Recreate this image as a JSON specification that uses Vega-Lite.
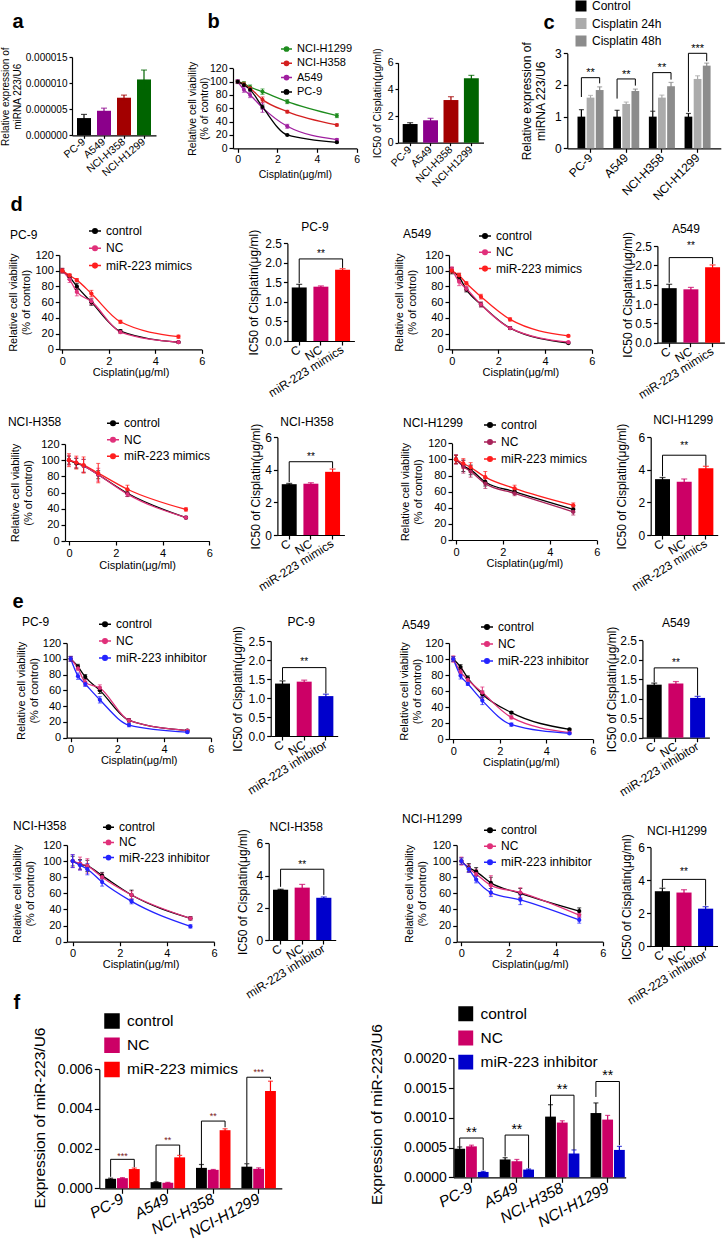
{
"$schema": "https://vega.github.io/schema/vega-lite/v6.json",
"width": 726, "height": 1241,
"autosize": {"type": "none"},
"padding": 0,
"background": "white",
"config": {
 "view": {"stroke": null},
 "font": "Liberation Sans",
 "axis": {"grid": false, "domainColor": "#000000", "domainWidth": 1.2, "tickColor": "#000000", "tickWidth": 1.2, "tickSize": 4, "labelColor": "#000000", "titleColor": "#000000", "labelFont": "Liberation Sans", "titleFont": "Liberation Sans", "titleFontWeight": "normal", "labelPadding": 2, "labelFlush": false, "labelOverlap": false, "labelBound": false},
 "axisLeft": {"titleAngle": 270, "titleAlign": "center", "titleBaseline": "bottom"},
 "legend": {"padding": 0, "labelFont": "Liberation Sans", "labelColor": "#000000", "symbolStrokeWidth": 1.5},
 "text": {"font": "Liberation Sans", "color": "#000000"}
},
"datasets": {
 "lines": [
  {"p":"b","s":"NCI-H1299","c":0,"v":100,"e":2},{"p":"b","s":"NCI-H1299","c":0.3125,"v":97,"e":3},{"p":"b","s":"NCI-H1299","c":0.625,"v":92,"e":3},{"p":"b","s":"NCI-H1299","c":1.25,"v":85,"e":4},{"p":"b","s":"NCI-H1299","c":2.5,"v":70,"e":3},{"p":"b","s":"NCI-H1299","c":5,"v":49,"e":3},
  {"p":"b","s":"NCI-H358","c":0,"v":100,"e":2},{"p":"b","s":"NCI-H358","c":0.3125,"v":96,"e":3},{"p":"b","s":"NCI-H358","c":0.625,"v":90,"e":2},{"p":"b","s":"NCI-H358","c":1.25,"v":73,"e":4},{"p":"b","s":"NCI-H358","c":2.5,"v":55,"e":2},{"p":"b","s":"NCI-H358","c":5,"v":35,"e":1.5},
  {"p":"b","s":"A549","c":0,"v":100,"e":3},{"p":"b","s":"A549","c":0.3125,"v":88,"e":4},{"p":"b","s":"A549","c":0.625,"v":80,"e":4},{"p":"b","s":"A549","c":1.25,"v":61,"e":7},{"p":"b","s":"A549","c":2.5,"v":33,"e":3},{"p":"b","s":"A549","c":5,"v":13,"e":1.5},
  {"p":"b","s":"PC-9","c":0,"v":100,"e":2},{"p":"b","s":"PC-9","c":0.3125,"v":95,"e":2},{"p":"b","s":"PC-9","c":0.625,"v":88,"e":2},{"p":"b","s":"PC-9","c":1.25,"v":62,"e":3},{"p":"b","s":"PC-9","c":2.5,"v":20,"e":1},{"p":"b","s":"PC-9","c":5,"v":9,"e":1},

  {"p":"dP","s":"control","c":0,"v":100,"e":3},{"p":"dP","s":"control","c":0.3125,"v":92,"e":3},{"p":"dP","s":"control","c":0.625,"v":80,"e":4},{"p":"dP","s":"control","c":1.25,"v":60,"e":4},{"p":"dP","s":"control","c":2.5,"v":23,"e":2},{"p":"dP","s":"control","c":5,"v":9,"e":1},
  {"p":"dP","s":"NC","c":0,"v":100,"e":3},{"p":"dP","s":"NC","c":0.3125,"v":89,"e":4},{"p":"dP","s":"NC","c":0.625,"v":73,"e":5},{"p":"dP","s":"NC","c":1.25,"v":61,"e":4},{"p":"dP","s":"NC","c":2.5,"v":22,"e":2},{"p":"dP","s":"NC","c":5,"v":9,"e":1},
  {"p":"dP","s":"miR-223 mimics","c":0,"v":100,"e":2},{"p":"dP","s":"miR-223 mimics","c":0.3125,"v":94,"e":2},{"p":"dP","s":"miR-223 mimics","c":0.625,"v":88,"e":2},{"p":"dP","s":"miR-223 mimics","c":1.25,"v":71,"e":4},{"p":"dP","s":"miR-223 mimics","c":2.5,"v":35,"e":2},{"p":"dP","s":"miR-223 mimics","c":5,"v":16,"e":2},

  {"p":"dA","s":"control","c":0,"v":100,"e":4},{"p":"dA","s":"control","c":0.3125,"v":92,"e":4},{"p":"dA","s":"control","c":0.625,"v":76,"e":3},{"p":"dA","s":"control","c":1.25,"v":57,"e":3},{"p":"dA","s":"control","c":2.5,"v":27,"e":1.5},{"p":"dA","s":"control","c":5,"v":8,"e":1},
  {"p":"dA","s":"NC","c":0,"v":102,"e":3},{"p":"dA","s":"NC","c":0.3125,"v":86,"e":5},{"p":"dA","s":"NC","c":0.625,"v":77,"e":3},{"p":"dA","s":"NC","c":1.25,"v":57,"e":3},{"p":"dA","s":"NC","c":2.5,"v":27,"e":1.5},{"p":"dA","s":"NC","c":5,"v":9,"e":1},
  {"p":"dA","s":"miR-223 mimics","c":0,"v":100,"e":3},{"p":"dA","s":"miR-223 mimics","c":0.3125,"v":94,"e":3},{"p":"dA","s":"miR-223 mimics","c":0.625,"v":84,"e":2},{"p":"dA","s":"miR-223 mimics","c":1.25,"v":67,"e":3},{"p":"dA","s":"miR-223 mimics","c":2.5,"v":38,"e":2},{"p":"dA","s":"miR-223 mimics","c":5,"v":17,"e":1},

  {"p":"dH","s":"control","c":0,"v":100,"e":5},{"p":"dH","s":"control","c":0.3125,"v":96,"e":6},{"p":"dH","s":"control","c":0.625,"v":93,"e":8},{"p":"dH","s":"control","c":1.25,"v":82,"e":5},{"p":"dH","s":"control","c":2.5,"v":59,"e":4},{"p":"dH","s":"control","c":5,"v":29,"e":1.5},
  {"p":"dH","s":"NC","c":0,"v":100,"e":6},{"p":"dH","s":"NC","c":0.3125,"v":97,"e":6},{"p":"dH","s":"NC","c":0.625,"v":93,"e":8},{"p":"dH","s":"NC","c":1.25,"v":82,"e":8},{"p":"dH","s":"NC","c":2.5,"v":58,"e":3},{"p":"dH","s":"NC","c":5,"v":29,"e":1.5},
  {"p":"dH","s":"miR-223 mimics","c":0,"v":100,"e":8},{"p":"dH","s":"miR-223 mimics","c":0.3125,"v":97,"e":8},{"p":"dH","s":"miR-223 mimics","c":0.625,"v":94,"e":10},{"p":"dH","s":"miR-223 mimics","c":1.25,"v":84,"e":12},{"p":"dH","s":"miR-223 mimics","c":2.5,"v":64,"e":5},{"p":"dH","s":"miR-223 mimics","c":5,"v":39,"e":2},

  {"p":"d9","s":"control","c":0,"v":100,"e":5},{"p":"d9","s":"control","c":0.3125,"v":92,"e":7},{"p":"d9","s":"control","c":0.625,"v":87,"e":6},{"p":"d9","s":"control","c":1.25,"v":72,"e":5},{"p":"d9","s":"control","c":2.5,"v":60,"e":3},{"p":"d9","s":"control","c":5,"v":38,"e":4},
  {"p":"d9","s":"NC","c":0,"v":100,"e":6},{"p":"d9","s":"NC","c":0.3125,"v":91,"e":8},{"p":"d9","s":"NC","c":0.625,"v":85,"e":7},{"p":"d9","s":"NC","c":1.25,"v":70,"e":6},{"p":"d9","s":"NC","c":2.5,"v":58,"e":3},{"p":"d9","s":"NC","c":5,"v":35,"e":4},
  {"p":"d9","s":"miR-223 mimics","c":0,"v":100,"e":5},{"p":"d9","s":"miR-223 mimics","c":0.3125,"v":95,"e":6},{"p":"d9","s":"miR-223 mimics","c":0.625,"v":90,"e":6},{"p":"d9","s":"miR-223 mimics","c":1.25,"v":78,"e":7},{"p":"d9","s":"miR-223 mimics","c":2.5,"v":64,"e":4},{"p":"d9","s":"miR-223 mimics","c":5,"v":43,"e":3},

  {"p":"eP","s":"control","c":0,"v":100,"e":3},{"p":"eP","s":"control","c":0.3125,"v":90,"e":3},{"p":"eP","s":"control","c":0.625,"v":77,"e":3},{"p":"eP","s":"control","c":1.25,"v":60,"e":4},{"p":"eP","s":"control","c":2.5,"v":22,"e":2},{"p":"eP","s":"control","c":5,"v":9,"e":1},
  {"p":"eP","s":"NC","c":0,"v":100,"e":3},{"p":"eP","s":"NC","c":0.3125,"v":88,"e":3},{"p":"eP","s":"NC","c":0.625,"v":70,"e":4},{"p":"eP","s":"NC","c":1.25,"v":63,"e":4},{"p":"eP","s":"NC","c":2.5,"v":22,"e":2},{"p":"eP","s":"NC","c":5,"v":9,"e":1},
  {"p":"eP","s":"miR-223 inhibitor","c":0,"v":100,"e":3},{"p":"eP","s":"miR-223 inhibitor","c":0.3125,"v":78,"e":4},{"p":"eP","s":"miR-223 inhibitor","c":0.625,"v":68,"e":3},{"p":"eP","s":"miR-223 inhibitor","c":1.25,"v":48,"e":4},{"p":"eP","s":"miR-223 inhibitor","c":2.5,"v":16,"e":2},{"p":"eP","s":"miR-223 inhibitor","c":5,"v":7,"e":1},

  {"p":"eA","s":"control","c":0,"v":100,"e":3},{"p":"eA","s":"control","c":0.3125,"v":90,"e":3},{"p":"eA","s":"control","c":0.625,"v":76,"e":3},{"p":"eA","s":"control","c":1.25,"v":56,"e":4},{"p":"eA","s":"control","c":2.5,"v":33,"e":1.5},{"p":"eA","s":"control","c":5,"v":12,"e":1},
  {"p":"eA","s":"NC","c":0,"v":100,"e":4},{"p":"eA","s":"NC","c":0.3125,"v":84,"e":4},{"p":"eA","s":"NC","c":0.625,"v":74,"e":3},{"p":"eA","s":"NC","c":1.25,"v":58,"e":7},{"p":"eA","s":"NC","c":2.5,"v":27,"e":2},{"p":"eA","s":"NC","c":5,"v":8,"e":1},
  {"p":"eA","s":"miR-223 inhibitor","c":0,"v":100,"e":3},{"p":"eA","s":"miR-223 inhibitor","c":0.3125,"v":79,"e":4},{"p":"eA","s":"miR-223 inhibitor","c":0.625,"v":69,"e":2},{"p":"eA","s":"miR-223 inhibitor","c":1.25,"v":48,"e":5},{"p":"eA","s":"miR-223 inhibitor","c":2.5,"v":18,"e":2},{"p":"eA","s":"miR-223 inhibitor","c":5,"v":7,"e":1},

  {"p":"gH","s":"control","c":0,"v":100,"e":6},{"p":"gH","s":"control","c":0.3125,"v":96,"e":6},{"p":"gH","s":"control","c":0.625,"v":94,"e":7},{"p":"gH","s":"control","c":1.25,"v":82,"e":4},{"p":"gH","s":"control","c":2.5,"v":58,"e":6},{"p":"gH","s":"control","c":5,"v":29,"e":2},
  {"p":"gH","s":"NC","c":0,"v":100,"e":8},{"p":"gH","s":"NC","c":0.3125,"v":97,"e":8},{"p":"gH","s":"NC","c":0.625,"v":94,"e":9},{"p":"gH","s":"NC","c":1.25,"v":80,"e":5},{"p":"gH","s":"NC","c":2.5,"v":58,"e":5},{"p":"gH","s":"NC","c":5,"v":29,"e":2},
  {"p":"gH","s":"miR-223 inhibitor","c":0,"v":100,"e":8},{"p":"gH","s":"miR-223 inhibitor","c":0.3125,"v":95,"e":6},{"p":"gH","s":"miR-223 inhibitor","c":0.625,"v":90,"e":7},{"p":"gH","s":"miR-223 inhibitor","c":1.25,"v":74,"e":5},{"p":"gH","s":"miR-223 inhibitor","c":2.5,"v":50,"e":3},{"p":"gH","s":"miR-223 inhibitor","c":5,"v":19,"e":2},

  {"p":"g9","s":"control","c":0,"v":100,"e":4},{"p":"g9","s":"control","c":0.3125,"v":92,"e":5},{"p":"g9","s":"control","c":0.625,"v":87,"e":5},{"p":"g9","s":"control","c":1.25,"v":73,"e":7},{"p":"g9","s":"control","c":2.5,"v":60,"e":6},{"p":"g9","s":"control","c":5,"v":38,"e":4},
  {"p":"g9","s":"NC","c":0,"v":100,"e":5},{"p":"g9","s":"NC","c":0.3125,"v":91,"e":5},{"p":"g9","s":"NC","c":0.625,"v":84,"e":6},{"p":"g9","s":"NC","c":1.25,"v":70,"e":12},{"p":"g9","s":"NC","c":2.5,"v":61,"e":6},{"p":"g9","s":"NC","c":5,"v":33,"e":3},
  {"p":"g9","s":"miR-223 inhibitor","c":0,"v":100,"e":4},{"p":"g9","s":"miR-223 inhibitor","c":0.3125,"v":90,"e":4},{"p":"g9","s":"miR-223 inhibitor","c":0.625,"v":77,"e":4},{"p":"g9","s":"miR-223 inhibitor","c":1.25,"v":61,"e":5},{"p":"g9","s":"miR-223 inhibitor","c":2.5,"v":52,"e":6},{"p":"g9","s":"miR-223 inhibitor","c":5,"v":27,"e":4}
 ],
 "bars": [
  {"p":"a","cat":"PC-9","v":0.0000033,"e":0.0000007},{"p":"a","cat":"A549","v":0.0000047,"e":0.0000005},{"p":"a","cat":"NCI-H358","v":0.0000072,"e":0.0000005},{"p":"a","cat":"NCI-H1299","v":0.0000107,"e":0.0000018},
  {"p":"bb","cat":"PC-9","v":1.4,"e":0.1},{"p":"bb","cat":"A549","v":1.68,"e":0.15},{"p":"bb","cat":"NCI-H358","v":3.2,"e":0.25},{"p":"bb","cat":"NCI-H1299","v":4.83,"e":0.22},
  {"p":"dPb","cat":"C","v":1.37,"e":0.08},{"p":"dPb","cat":"NC","v":1.39,"e":0.02},{"p":"dPb","cat":"miR-223 mimics","v":1.82,"e":0.03},
  {"p":"dAb","cat":"C","v":1.41,"e":0.1},{"p":"dAb","cat":"NC","v":1.38,"e":0.05},{"p":"dAb","cat":"miR-223 mimics","v":1.95,"e":0.06},
  {"p":"dHb","cat":"C","v":3.12,"e":0.05},{"p":"dHb","cat":"NC","v":3.15,"e":0.06},{"p":"dHb","cat":"miR-223 mimics","v":3.88,"e":0.17},
  {"p":"d9b","cat":"C","v":3.43,"e":0.1},{"p":"d9b","cat":"NC","v":3.27,"e":0.17},{"p":"d9b","cat":"miR-223 mimics","v":4.1,"e":0.12},
  {"p":"ePb","cat":"C","v":1.38,"e":0.07},{"p":"ePb","cat":"NC","v":1.43,"e":0.04},{"p":"ePb","cat":"miR-223 inhibitor","v":1.05,"e":0.05},
  {"p":"eAb","cat":"C","v":1.36,"e":0.04},{"p":"eAb","cat":"NC","v":1.39,"e":0.05},{"p":"eAb","cat":"miR-223 inhibitor","v":1.02,"e":0.04},
  {"p":"gHb","cat":"C","v":3.12,"e":0.03},{"p":"gHb","cat":"NC","v":3.25,"e":0.2},{"p":"gHb","cat":"miR-223 inhibitor","v":2.62,"e":0.05},
  {"p":"g9b","cat":"C","v":3.33,"e":0.18},{"p":"g9b","cat":"NC","v":3.25,"e":0.17},{"p":"g9b","cat":"miR-223 inhibitor","v":2.27,"e":0.12}
 ],
 "grouped": [
  {"p":"c","cat":"PC-9","grp":"Control","v":1.0,"e":0.22},{"p":"c","cat":"PC-9","grp":"Cisplatin 24h","v":1.6,"e":0.07},{"p":"c","cat":"PC-9","grp":"Cisplatin 48h","v":1.84,"e":0.1},
  {"p":"c","cat":"A549","grp":"Control","v":1.0,"e":0.2},{"p":"c","cat":"A549","grp":"Cisplatin 24h","v":1.4,"e":0.06},{"p":"c","cat":"A549","grp":"Cisplatin 48h","v":1.81,"e":0.06},
  {"p":"c","cat":"NCI-H358","grp":"Control","v":1.0,"e":0.17},{"p":"c","cat":"NCI-H358","grp":"Cisplatin 24h","v":1.6,"e":0.08},{"p":"c","cat":"NCI-H358","grp":"Cisplatin 48h","v":1.96,"e":0.12},
  {"p":"c","cat":"NCI-H1299","grp":"Control","v":1.0,"e":0.1},{"p":"c","cat":"NCI-H1299","grp":"Cisplatin 24h","v":2.19,"e":0.1},{"p":"c","cat":"NCI-H1299","grp":"Cisplatin 48h","v":2.61,"e":0.08},
  {"p":"fL","cat":"PC-9","grp":"control","v":0.00048,"e":0.00003},{"p":"fL","cat":"PC-9","grp":"NC","v":0.00051,"e":0.00003},{"p":"fL","cat":"PC-9","grp":"miR-223 mimics","v":0.00097,"e":0.00005},
  {"p":"fL","cat":"A549","grp":"control","v":0.00031,"e":0.00003},{"p":"fL","cat":"A549","grp":"NC","v":0.00028,"e":0.00002},{"p":"fL","cat":"A549","grp":"miR-223 mimics","v":0.00156,"e":0.0001},
  {"p":"fL","cat":"NCI-H358","grp":"control","v":0.00103,"e":0.00017},{"p":"fL","cat":"NCI-H358","grp":"NC","v":0.00093,"e":0.00002},{"p":"fL","cat":"NCI-H358","grp":"miR-223 mimics","v":0.00293,"e":0.00007},
  {"p":"fL","cat":"NCI-H1299","grp":"control","v":0.00109,"e":0.00015},{"p":"fL","cat":"NCI-H1299","grp":"NC","v":0.00098,"e":0.00005},{"p":"fL","cat":"NCI-H1299","grp":"miR-223 mimics","v":0.0049,"e":0.0005},
  {"p":"fR","cat":"PC-9","grp":"control","v":0.00048,"e":0.00003},{"p":"fR","cat":"PC-9","grp":"NC","v":0.00052,"e":0.00002},{"p":"fR","cat":"PC-9","grp":"miR-223 inhibitor","v":0.00009,"e":0.00001},
  {"p":"fR","cat":"A549","grp":"control","v":0.0003,"e":0.00003},{"p":"fR","cat":"A549","grp":"NC","v":0.00027,"e":0.00003},{"p":"fR","cat":"A549","grp":"miR-223 inhibitor","v":0.00013,"e":0.00001},
  {"p":"fR","cat":"NCI-H358","grp":"control","v":0.00102,"e":0.0002},{"p":"fR","cat":"NCI-H358","grp":"NC","v":0.00092,"e":0.00003},{"p":"fR","cat":"NCI-H358","grp":"miR-223 inhibitor","v":0.0004,"e":0.00006},
  {"p":"fR","cat":"NCI-H1299","grp":"control","v":0.00108,"e":0.00017},{"p":"fR","cat":"NCI-H1299","grp":"NC","v":0.00097,"e":0.00007},{"p":"fR","cat":"NCI-H1299","grp":"miR-223 inhibitor","v":0.00046,"e":0.00006}
 ],
 "brackets": [
  {"p":"c","cat":"PC-9","grp":"Control","v":1.62,"o":1},{"p":"c","cat":"PC-9","grp":"Control","v":2.23,"o":2},{"p":"c","cat":"PC-9","grp":"Cisplatin 48h","v":2.23,"o":3},{"p":"c","cat":"PC-9","grp":"Cisplatin 48h","v":2.05,"o":4},
  {"p":"c","cat":"A549","grp":"Control","v":1.57,"o":1},{"p":"c","cat":"A549","grp":"Control","v":2.19,"o":2},{"p":"c","cat":"A549","grp":"Cisplatin 48h","v":2.19,"o":3},{"p":"c","cat":"A549","grp":"Cisplatin 48h","v":1.98,"o":4},
  {"p":"c","cat":"NCI-H358","grp":"Control","v":1.18,"o":1},{"p":"c","cat":"NCI-H358","grp":"Control","v":2.39,"o":2},{"p":"c","cat":"NCI-H358","grp":"Cisplatin 48h","v":2.39,"o":3},{"p":"c","cat":"NCI-H358","grp":"Cisplatin 48h","v":2.17,"o":4},
  {"p":"c","cat":"NCI-H1299","grp":"Control","v":1.15,"o":1},{"p":"c","cat":"NCI-H1299","grp":"Control","v":3.0,"o":2},{"p":"c","cat":"NCI-H1299","grp":"Cisplatin 48h","v":3.0,"o":3},{"p":"c","cat":"NCI-H1299","grp":"Cisplatin 48h","v":2.75,"o":4},
  {"p":"dPb","cat":"C","v":1.48,"o":1},{"p":"dPb","cat":"C","v":2.1,"o":2},{"p":"dPb","cat":"miR-223 mimics","v":2.1,"o":3},{"p":"dPb","cat":"miR-223 mimics","v":1.87,"o":4},
  {"p":"dAb","cat":"C","v":1.55,"o":1},{"p":"dAb","cat":"C","v":2.2,"o":2},{"p":"dAb","cat":"miR-223 mimics","v":2.2,"o":3},{"p":"dAb","cat":"miR-223 mimics","v":2.03,"o":4},
  {"p":"dHb","cat":"C","v":3.25,"o":1},{"p":"dHb","cat":"C","v":4.5,"o":2},{"p":"dHb","cat":"miR-223 mimics","v":4.5,"o":3},{"p":"dHb","cat":"miR-223 mimics","v":4.1,"o":4},
  {"p":"d9b","cat":"C","v":3.6,"o":1},{"p":"d9b","cat":"C","v":4.9,"o":2},{"p":"d9b","cat":"miR-223 mimics","v":4.9,"o":3},{"p":"d9b","cat":"miR-223 mimics","v":4.25,"o":4},
  {"p":"ePb","cat":"C","v":1.47,"o":1},{"p":"ePb","cat":"C","v":1.8,"o":2},{"p":"ePb","cat":"miR-223 inhibitor","v":1.8,"o":3},{"p":"ePb","cat":"miR-223 inhibitor","v":1.12,"o":4},
  {"p":"eAb","cat":"C","v":1.42,"o":1},{"p":"eAb","cat":"C","v":1.79,"o":2},{"p":"eAb","cat":"miR-223 inhibitor","v":1.79,"o":3},{"p":"eAb","cat":"miR-223 inhibitor","v":1.08,"o":4},
  {"p":"gHb","cat":"C","v":3.3,"o":1},{"p":"gHb","cat":"C","v":4.39,"o":2},{"p":"gHb","cat":"miR-223 inhibitor","v":4.39,"o":3},{"p":"gHb","cat":"miR-223 inhibitor","v":2.8,"o":4},
  {"p":"g9b","cat":"C","v":3.55,"o":1},{"p":"g9b","cat":"C","v":4.05,"o":2},{"p":"g9b","cat":"miR-223 inhibitor","v":4.05,"o":3},{"p":"g9b","cat":"miR-223 inhibitor","v":2.45,"o":4},
  {"p":"fL","cat":"PC-9","grp":"control","v":0.00058,"o":1},{"p":"fL","cat":"PC-9","grp":"control","v":0.00146,"o":2},{"p":"fL","cat":"PC-9","grp":"miR-223 mimics","v":0.00146,"o":3},{"p":"fL","cat":"PC-9","grp":"miR-223 mimics","v":0.00106,"o":4},
  {"p":"fL","cat":"A549","grp":"control","v":0.00037,"o":1},{"p":"fL","cat":"A549","grp":"control","v":0.00218,"o":2},{"p":"fL","cat":"A549","grp":"miR-223 mimics","v":0.00218,"o":3},{"p":"fL","cat":"A549","grp":"miR-223 mimics","v":0.00168,"o":4},
  {"p":"fL","cat":"NCI-H358","grp":"control","v":0.00118,"o":1},{"p":"fL","cat":"NCI-H358","grp":"control","v":0.00339,"o":2},{"p":"fL","cat":"NCI-H358","grp":"miR-223 mimics","v":0.00339,"o":3},{"p":"fL","cat":"NCI-H358","grp":"miR-223 mimics","v":0.00308,"o":4},
  {"p":"fL","cat":"NCI-H1299","grp":"control","v":0.00126,"o":1},{"p":"fL","cat":"NCI-H1299","grp":"control","v":0.0056,"o":2},{"p":"fL","cat":"NCI-H1299","grp":"miR-223 mimics","v":0.0056,"o":3},{"p":"fL","cat":"NCI-H1299","grp":"miR-223 mimics","v":0.0055,"o":4},
  {"p":"fR","cat":"PC-9","grp":"control","v":0.00051,"o":1},{"p":"fR","cat":"PC-9","grp":"control","v":0.00066,"o":2},{"p":"fR","cat":"PC-9","grp":"miR-223 inhibitor","v":0.00066,"o":3},{"p":"fR","cat":"PC-9","grp":"miR-223 inhibitor","v":0.00012,"o":4},
  {"p":"fR","cat":"A549","grp":"control","v":0.00035,"o":1},{"p":"fR","cat":"A549","grp":"control","v":0.00071,"o":2},{"p":"fR","cat":"A549","grp":"miR-223 inhibitor","v":0.00071,"o":3},{"p":"fR","cat":"A549","grp":"miR-223 inhibitor","v":0.00015,"o":4},
  {"p":"fR","cat":"NCI-H358","grp":"control","v":0.00119,"o":1},{"p":"fR","cat":"NCI-H358","grp":"control","v":0.00138,"o":2},{"p":"fR","cat":"NCI-H358","grp":"miR-223 inhibitor","v":0.00138,"o":3},{"p":"fR","cat":"NCI-H358","grp":"miR-223 inhibitor","v":0.00046,"o":4},
  {"p":"fR","cat":"NCI-H1299","grp":"control","v":0.00135,"o":1},{"p":"fR","cat":"NCI-H1299","grp":"control","v":0.00161,"o":2},{"p":"fR","cat":"NCI-H1299","grp":"miR-223 inhibitor","v":0.00161,"o":3},{"p":"fR","cat":"NCI-H1299","grp":"miR-223 inhibitor","v":0.00054,"o":4}
 ],
 "stars": [
  {"p":"c","cat":"PC-9","grp":"Cisplatin 24h","v":2.27,"t":"**"},{"p":"c","cat":"A549","grp":"Cisplatin 24h","v":2.23,"t":"**"},{"p":"c","cat":"NCI-H358","grp":"Cisplatin 24h","v":2.43,"t":"**"},{"p":"c","cat":"NCI-H1299","grp":"Cisplatin 24h","v":3.04,"t":"***"},
  {"p":"dPb","cat":"NC","v":2.14,"t":"**"},{"p":"dAb","cat":"NC","v":2.42,"t":"**"},{"p":"dHb","cat":"NC","v":4.6,"t":"**"},{"p":"d9b","cat":"NC","v":5.28,"t":"**"},
  {"p":"ePb","cat":"NC","v":1.86,"t":"**"},{"p":"eAb","cat":"NC","v":1.84,"t":"**"},{"p":"gHb","cat":"NC","v":4.48,"t":"**"},{"p":"g9b","cat":"NC","v":4.31,"t":"**"},
  {"p":"fL","cat":"PC-9","grp":"NC","v":0.0015,"t":"***"},{"p":"fL","cat":"A549","grp":"NC","v":0.00226,"t":"**"},{"p":"fL","cat":"NCI-H358","grp":"NC","v":0.00348,"t":"**"},{"p":"fL","cat":"NCI-H1299","grp":"NC","v":0.0057,"t":"***"},
  {"p":"fR","cat":"PC-9","grp":"NC","v":0.00068,"t":"**"},{"p":"fR","cat":"A549","grp":"NC","v":0.00073,"t":"**"},{"p":"fR","cat":"NCI-H358","grp":"NC","v":0.0014,"t":"**"},{"p":"fR","cat":"NCI-H1299","grp":"NC","v":0.00163,"t":"**"}
 ]
},
"layer": [
 {"layer": [
  {"data":{"name":"bars"},"transform":[{"filter":"datum.p==='a'"}],"mark":{"type":"bar"},
   "encoding":{
    "x":{"field":"cat","type":"nominal","sort":null,"scale":{"domain":["PC-9","A549","NCI-H358","NCI-H1299"],"range":[72,156],"paddingInner":0.3,"paddingOuter":0.25},"axis":{"orient":"bottom","offset":-1105.7,"labelAngle":-40,"labelAlign":"right","labelBaseline":"middle","labelFontSize":10.5,"tickSize":3,"title":"a","titleX":12,"titleY":-108.3,"titleAlign":"left","titleBaseline":"alphabetic","titleAngle":0,"titleFontSize":20,"titleFontWeight":"bold"}},
    "y":{"field":"v","type":"quantitative","scale":{"domain":[0,0.000015],"range":[135.3,57],"nice":false},"axis":{"orient":"left","offset":-72,"values":[0,0.000005,0.00001,0.000015],"format":".6f","title":["Relative  expression of","miRNA 223/U6"],"labelFontSize":10,"titleFontSize":10,"titleX":-61.5,"titleY":96.2,"tickSize":3}},
    "color":{"field":"cat","type":"nominal","scale":{"domain":["PC-9","A549","NCI-H358","NCI-H1299"],"range":["#000000","#8b008b","#a30000","#006400"]},"legend":null}}},
  {"data":{"name":"bars"},"transform":[{"filter":"datum.p==='a'"}],"mark":{"type":"errorbar","ticks":true,"size":6,"thickness":1.2},
   "encoding":{"x":{"field":"cat","type":"nominal"},"y":{"field":"v","type":"quantitative","title":["Relative  expression of","miRNA 223/U6"]},"yError":{"field":"e"},"color":{"field":"cat","type":"nominal","legend":null}}}
 ]},
 {"layer": [
  {"data":{"name":"lines"},"transform":[{"filter":"datum.p==='b'"}],"mark":{"type":"line","interpolate":"monotone","strokeWidth":1.3},
   "encoding":{
    "x":{"field":"c","type":"quantitative","scale":{"domain":[-0.237,6],"range":[233,356.7],"nice":false,"zero":false},"axis":{"orient":"bottom","offset":-1092.7,"values":[0,2,4,6],"format":"d","title":"Cisplatin(μg/ml)","labelFontSize":10.5,"titleFontSize":10.5,"titlePadding":5}},
    "y":{"field":"v","type":"quantitative","scale":{"domain":[0,120],"range":[148.3,68.3],"nice":false},"axis":{"orient":"left","offset":-233,"values":[0,20,40,60,80,100,120],"format":"d","title":["Relative cell viability","(% of control)"],"labelFontSize":10.5,"titleFontSize":10.5,"titleX":-35.75,"titleY":108.3}},
    "color":{"field":"s","type":"nominal","scale":{"domain":["NCI-H1299","NCI-H358","A549","PC-9"],"range":["#1e8c1e","#d42020","#a020a0","#000000"]},"legend":{"orient":"none","legendX":280,"legendY":42.5,"title":null,"labelFontSize":11,"symbolType":"M-1,0L1,0M0.38,0A0.38,0.38,0,1,1,-0.38,0A0.38,0.38,0,1,1,0.38,0Z","symbolSize":121,"symbolStrokeWidth":1.5,"rowPadding":2.3,"labelOffset":4}}}},
  {"data":{"name":"lines"},"transform":[{"filter":"datum.p==='b'"}],"mark":{"type":"errorbar","ticks":true,"size":4,"thickness":1},
   "encoding":{"x":{"field":"c","type":"quantitative"},"y":{"field":"v","type":"quantitative","title":["Relative cell viability","(% of control)"]},"yError":{"field":"e"},"color":{"field":"s","type":"nominal","legend":null}}},
  {"data":{"name":"lines"},"transform":[{"filter":"datum.p==='b'"}],"mark":{"type":"point","filled":true,"size":16,"opacity":1},
   "encoding":{"x":{"field":"c","type":"quantitative"},"y":{"field":"v","type":"quantitative"},"color":{"field":"s","type":"nominal","legend":null}}}
 ]},
 {"layer": [
  {"data":{"name":"bars"},"transform":[{"filter":"datum.p==='bb'"}],"mark":{"type":"bar"},
   "encoding":{
    "x":{"field":"cat","type":"nominal","sort":null,"scale":{"domain":["PC-9","A549","NCI-H358","NCI-H1299"],"range":[398,483.5],"paddingInner":0.27,"paddingOuter":0.23},"axis":{"orient":"bottom","offset":-1098.3,"labelAngle":-45,"labelAlign":"right","labelBaseline":"middle","labelFontSize":10.5,"tickSize":3,"title":"b","titleX":207,"titleY":-115.7,"titleAlign":"left","titleBaseline":"alphabetic","titleAngle":0,"titleFontSize":20,"titleFontWeight":"bold"}},
    "y":{"field":"v","type":"quantitative","scale":{"domain":[0,6],"range":[142.7,62.7],"nice":false},"axis":{"orient":"left","offset":-398,"values":[0,2,4,6],"format":"d","title":"IC50 of Cisplatin(μg/ml)","labelFontSize":10.5,"titleFontSize":10.5,"titleX":-15.75,"titleY":102.7,"tickSize":3}},
    "color":{"field":"cat","type":"nominal","scale":{"domain":["PC-9","A549","NCI-H358","NCI-H1299"],"range":["#000000","#8b008b","#a30000","#006400"]},"legend":null}}},
  {"data":{"name":"bars"},"transform":[{"filter":"datum.p==='bb'"}],"mark":{"type":"errorbar","ticks":true,"size":6,"thickness":1.2},
   "encoding":{"x":{"field":"cat","type":"nominal"},"y":{"field":"v","type":"quantitative","title":"IC50 of Cisplatin(μg/ml)"},"yError":{"field":"e"},"color":{"field":"cat","type":"nominal","legend":null}}}
 ]},
 {"layer": [
  {"data":{"name":"grouped"},"transform":[{"filter":"datum.p==='c'"}],"mark":{"type":"bar"},
   "encoding":{
    "x":{"field":"cat","type":"nominal","sort":null,"scale":{"domain":["PC-9","A549","NCI-H358","NCI-H1299"],"range":[567.3,720.8],"paddingInner":0.27,"paddingOuter":0.286},"axis":{"orient":"bottom","offset":-1092.7,"labelAngle":-45,"labelAlign":"right","labelBaseline":"middle","labelFontSize":12,"labelPadding":3,"title":"c","titleX":543,"titleY":-120.3,"titleAlign":"left","titleBaseline":"alphabetic","titleAngle":0,"titleFontSize":20,"titleFontWeight":"bold"}},
    "xOffset":{"field":"grp","type":"nominal","sort":null,"scale":{"domain":["Control","Cisplatin 24h","Cisplatin 48h"],"paddingInner":0.15}},
    "y":{"field":"v","type":"quantitative","scale":{"domain":[0,3],"range":[148.3,53.3],"nice":false},"axis":{"orient":"left","offset":-567.3,"values":[0,1,2,3],"format":"d","title":["Relative expression of","miRNA 223/U6"],"labelFontSize":12,"titleFontSize":12,"titleX":-33.8,"titleY":100.8}},
    "color":{"field":"grp","type":"nominal","scale":{"domain":["Control","Cisplatin 24h","Cisplatin 48h"],"range":["#000000","#ababab","#8c8c8c"]},"legend":{"orient":"none","legendX":575,"legendY":0,"title":null,"symbolType":"square","symbolSize":90,"labelFontSize":12,"rowPadding":1.5,"labelOffset":5}}}},
  {"data":{"name":"grouped"},"transform":[{"filter":"datum.p==='c'"}],"mark":{"type":"errorbar","ticks":true,"size":5,"thickness":1.2},
   "encoding":{"x":{"field":"cat","type":"nominal"},"xOffset":{"field":"grp","type":"nominal"},"y":{"field":"v","type":"quantitative","title":["Relative expression of","miRNA 223/U6"]},"yError":{"field":"e"},"color":{"field":"grp","type":"nominal","legend":null}}},
  {"data":{"name":"brackets"},"transform":[{"filter":"datum.p==='c'"}],"mark":{"type":"line","color":"#000000","strokeWidth":1},
   "encoding":{"x":{"field":"cat","type":"nominal"},"xOffset":{"field":"grp","type":"nominal"},"y":{"field":"v","type":"quantitative"},"detail":{"field":"cat"},"order":{"field":"o","type":"quantitative"}}},
  {"data":{"name":"stars"},"transform":[{"filter":"datum.p==='c'"}],"mark":{"type":"text","fontSize":11,"baseline":"alphabetic"},
   "encoding":{"x":{"field":"cat","type":"nominal"},"xOffset":{"field":"grp","type":"nominal"},"y":{"field":"v","type":"quantitative"},"text":{"field":"t","type":"nominal"}}}
 ]},

 {"layer": [
  {"data":{"name":"lines"},"transform":[{"filter":"datum.p==='dP'"}],"mark":{"type":"line","interpolate":"monotone","strokeWidth":1.3},
   "encoding":{
    "x":{"field":"c","type":"quantitative","scale":{"domain":[-0.13,6],"range":[59.3,201.7],"nice":false,"zero":false},"axis":{"orient":"bottom","offset":-891.7,"values":[0,2,4,6],"format":"d","title":"Cisplatin(μg/ml)","labelFontSize":11,"titleFontSize":11,"titlePadding":0}},
    "y":{"field":"v","type":"quantitative","scale":{"domain":[0,120],"range":[349.3,255],"nice":false},"axis":{"orient":"left","offset":-59.3,"values":[0,20,40,60,80,100,120],"format":"d","title":["Relative cell viability","(% of control)"],"labelFontSize":11,"titleFontSize":11,"titleX":-40.8,"titleY":302.15}},
    "color":{"field":"s","type":"nominal","scale":{"domain":["control","NC","miR-223 mimics"],"range":["#000000","#e0307a","#ff1f1f"]},"legend":{"orient":"none","legendX":88,"legendY":224,"title":null,"labelFontSize":12,"symbolType":"M-1,0L1,0M0.38,0A0.38,0.38,0,1,1,-0.38,0A0.38,0.38,0,1,1,0.38,0Z","symbolSize":144,"symbolStrokeWidth":1.5,"rowPadding":4.3,"labelOffset":4}}}},
  {"data":{"name":"lines"},"transform":[{"filter":"datum.p==='dP'"}],"mark":{"type":"errorbar","ticks":true,"size":4,"thickness":1},
   "encoding":{"x":{"field":"c","type":"quantitative"},"y":{"field":"v","type":"quantitative","title":["Relative cell viability","(% of control)"]},"yError":{"field":"e"},"color":{"field":"s","type":"nominal","legend":null}}},
  {"data":{"name":"lines"},"transform":[{"filter":"datum.p==='dP'"}],"mark":{"type":"point","filled":true,"size":18,"opacity":1},
   "encoding":{"x":{"field":"c","type":"quantitative"},"y":{"field":"v","type":"quantitative"},"color":{"field":"s","type":"nominal","legend":null}}},
  {"data":{"values":[{}]},"mark":{"type":"text","text":"PC-9","align":"left","baseline":"middle","fontSize":12},"encoding":{"x":{"datum":-2.25},"y":{"datum":145.4}}}
 ]},
 {"layer": [
  {"data":{"name":"bars"},"transform":[{"filter":"datum.p==='dPb'"}],"mark":{"type":"bar"},
   "encoding":{
    "x":{"field":"cat","type":"nominal","sort":null,"scale":{"domain":["C","NC","miR-223 mimics"],"range":[287.4,354.4],"paddingInner":0.31,"paddingOuter":0.2},"axis":{"orient":"bottom","offset":-900,"labelAngle":-32,"labelAlign":"right","labelBaseline":"middle","labelFontSize":12,"labelPadding":3,"title":"d","titleX":10,"titleY":-131,"titleAlign":"left","titleBaseline":"alphabetic","titleAngle":0,"titleFontSize":20,"titleFontWeight":"bold"}},
    "y":{"field":"v","type":"quantitative","scale":{"domain":[0,2.5],"range":[341,243.3],"nice":false},"axis":{"orient":"left","offset":-287.4,"values":[0,0.5,1,1.5,2,2.5],"format":".1f","title":"IC50 of Cisplatin(μg/ml)","labelFontSize":12,"titleFontSize":12,"titleX":-27.4,"titleY":292.15}},
    "color":{"field":"cat","type":"nominal","scale":{"domain":["C","NC","miR-223 mimics"],"range":["#000000","#cc0066","#ff0000"]},"legend":null}}},
  {"data":{"name":"bars"},"transform":[{"filter":"datum.p==='dPb'"}],"mark":{"type":"errorbar","ticks":true,"size":6,"thickness":1.2},
   "encoding":{"x":{"field":"cat","type":"nominal"},"y":{"field":"v","type":"quantitative","title":"IC50 of Cisplatin(μg/ml)"},"yError":{"field":"e"},"color":{"field":"cat","type":"nominal","legend":null}}},
  {"data":{"name":"brackets"},"transform":[{"filter":"datum.p==='dPb'"}],"mark":{"type":"line","color":"#000000","strokeWidth":1},
   "encoding":{"x":{"field":"cat","type":"nominal"},"y":{"field":"v","type":"quantitative"},"order":{"field":"o","type":"quantitative"}}},
  {"data":{"name":"stars"},"transform":[{"filter":"datum.p==='dPb'"}],"mark":{"type":"text","fontSize":10,"baseline":"alphabetic"},
   "encoding":{"x":{"field":"cat","type":"nominal"},"y":{"field":"v","type":"quantitative"},"text":{"field":"t","type":"nominal"}}},
  {"data":{"values":[{}]},"mark":{"type":"text","text":"PC-9","fontSize":12,"baseline":"middle","dx":-6},"encoding":{"x":{"datum":"NC"},"y":{"datum":2.92}}}
 ]},
 {"layer": [
  {"data":{"name":"lines"},"transform":[{"filter":"datum.p==='dA'"}],"mark":{"type":"line","interpolate":"monotone","strokeWidth":1.3},
   "encoding":{
    "x":{"field":"c","type":"quantitative","scale":{"domain":[-0.12,6],"range":[449,591.7],"nice":false,"zero":false},"axis":{"orient":"bottom","offset":-891.7,"values":[0,2,4,6],"format":"d","title":"Cisplatin(μg/ml)","labelFontSize":11,"titleFontSize":11,"titlePadding":0}},
    "y":{"field":"v","type":"quantitative","scale":{"domain":[0,120],"range":[349.3,255],"nice":false},"axis":{"orient":"left","offset":-449,"values":[0,20,40,60,80,100,120],"format":"d","title":["Relative cell viability","(% of control)"],"labelFontSize":11,"titleFontSize":11,"titleX":-44.5,"titleY":302.15}},
    "color":{"field":"s","type":"nominal","scale":{"domain":["control","NC","miR-223 mimics"],"range":["#000000","#e0307a","#ff1f1f"]},"legend":{"orient":"none","legendX":478,"legendY":229,"title":null,"labelFontSize":12,"symbolType":"M-1,0L1,0M0.38,0A0.38,0.38,0,1,1,-0.38,0A0.38,0.38,0,1,1,0.38,0Z","symbolSize":144,"symbolStrokeWidth":1.5,"rowPadding":3.3,"labelOffset":4}}}},
  {"data":{"name":"lines"},"transform":[{"filter":"datum.p==='dA'"}],"mark":{"type":"errorbar","ticks":true,"size":4,"thickness":1},
   "encoding":{"x":{"field":"c","type":"quantitative"},"y":{"field":"v","type":"quantitative","title":["Relative cell viability","(% of control)"]},"yError":{"field":"e"},"color":{"field":"s","type":"nominal","legend":null}}},
  {"data":{"name":"lines"},"transform":[{"filter":"datum.p==='dA'"}],"mark":{"type":"point","filled":true,"size":18,"opacity":1},
   "encoding":{"x":{"field":"c","type":"quantitative"},"y":{"field":"v","type":"quantitative"},"color":{"field":"s","type":"nominal","legend":null}}},
  {"data":{"values":[{}]},"mark":{"type":"text","text":"A549","align":"left","baseline":"middle","fontSize":12},"encoding":{"x":{"datum":-2.09},"y":{"datum":146.7}}}
 ]},
 {"layer": [
  {"data":{"name":"bars"},"transform":[{"filter":"datum.p==='dAb'"}],"mark":{"type":"bar"},
   "encoding":{
    "x":{"field":"cat","type":"nominal","sort":null,"scale":{"domain":["C","NC","miR-223 mimics"],"range":[657.4,724.4],"paddingInner":0.31,"paddingOuter":0.2},"axis":{"orient":"bottom","offset":-898.3,"labelAngle":-32,"labelAlign":"right","labelBaseline":"middle","labelFontSize":12,"labelPadding":3,"title":null}},
    "y":{"field":"v","type":"quantitative","scale":{"domain":[0,2.5],"range":[342.7,246],"nice":false},"axis":{"orient":"left","offset":-657.4,"values":[0,0.5,1,1.5,2,2.5],"format":".1f","title":"IC50 of Cisplatin(μg/ml)","labelFontSize":12,"titleFontSize":12,"titleX":-23.4,"titleY":294.35}},
    "color":{"field":"cat","type":"nominal","scale":{"domain":["C","NC","miR-223 mimics"],"range":["#000000","#cc0066","#ff0000"]},"legend":null}}},
  {"data":{"name":"bars"},"transform":[{"filter":"datum.p==='dAb'"}],"mark":{"type":"errorbar","ticks":true,"size":6,"thickness":1.2},
   "encoding":{"x":{"field":"cat","type":"nominal"},"y":{"field":"v","type":"quantitative","title":"IC50 of Cisplatin(μg/ml)"},"yError":{"field":"e"},"color":{"field":"cat","type":"nominal","legend":null}}},
  {"data":{"name":"brackets"},"transform":[{"filter":"datum.p==='dAb'"}],"mark":{"type":"line","color":"#000000","strokeWidth":1},
   "encoding":{"x":{"field":"cat","type":"nominal"},"y":{"field":"v","type":"quantitative"},"order":{"field":"o","type":"quantitative"}}},
  {"data":{"name":"stars"},"transform":[{"filter":"datum.p==='dAb'"}],"mark":{"type":"text","fontSize":10,"baseline":"alphabetic"},
   "encoding":{"x":{"field":"cat","type":"nominal"},"y":{"field":"v","type":"quantitative"},"text":{"field":"t","type":"nominal"}}},
  {"data":{"values":[{}]},"mark":{"type":"text","text":"A549","fontSize":12,"baseline":"middle","dx":-5},"encoding":{"x":{"datum":"NC"},"y":{"datum":2.94}}}
 ]},
 {"layer": [
  {"data":{"name":"lines"},"transform":[{"filter":"datum.p==='dH'"}],"mark":{"type":"line","interpolate":"monotone","strokeWidth":1.3},
   "encoding":{
    "x":{"field":"c","type":"quantitative","scale":{"domain":[-0.17,6],"range":[65,209.3],"nice":false,"zero":false},"axis":{"orient":"bottom","offset":-700,"values":[0,2,4,6],"format":"d","title":"Cisplatin(μg/ml)","labelFontSize":11,"titleFontSize":11,"titlePadding":1}},
    "y":{"field":"v","type":"quantitative","scale":{"domain":[0,120],"range":[541,444],"nice":false},"axis":{"orient":"left","offset":-65,"values":[0,20,40,60,80,100,120],"format":"d","title":["Relative cell viability","(% of control)"],"labelFontSize":11,"titleFontSize":11,"titleX":-44.5,"titleY":492.5}},
    "color":{"field":"s","type":"nominal","scale":{"domain":["control","NC","miR-223 mimics"],"range":["#000000","#e0307a","#ff1f1f"]},"legend":{"orient":"none","legendX":106,"legendY":416.3,"title":null,"labelFontSize":12,"symbolType":"M-1,0L1,0M0.38,0A0.38,0.38,0,1,1,-0.38,0A0.38,0.38,0,1,1,0.38,0Z","symbolSize":144,"symbolStrokeWidth":1.5,"rowPadding":3.5,"labelOffset":4}}}},
  {"data":{"name":"lines"},"transform":[{"filter":"datum.p==='dH'"}],"mark":{"type":"errorbar","ticks":true,"size":4,"thickness":1},
   "encoding":{"x":{"field":"c","type":"quantitative"},"y":{"field":"v","type":"quantitative","title":["Relative cell viability","(% of control)"]},"yError":{"field":"e"},"color":{"field":"s","type":"nominal","legend":null}}},
  {"data":{"name":"lines"},"transform":[{"filter":"datum.p==='dH'"}],"mark":{"type":"point","filled":true,"size":18,"opacity":1},
   "encoding":{"x":{"field":"c","type":"quantitative"},"y":{"field":"v","type":"quantitative"},"color":{"field":"s","type":"nominal","legend":null}}},
  {"data":{"values":[{}]},"mark":{"type":"text","text":"NCI-H358","align":"left","baseline":"middle","fontSize":12},"encoding":{"x":{"datum":-2.61},"y":{"datum":147.3}}}
 ]},
 {"layer": [
  {"data":{"name":"bars"},"transform":[{"filter":"datum.p==='dHb'"}],"mark":{"type":"bar"},
   "encoding":{
    "x":{"field":"cat","type":"nominal","sort":null,"scale":{"domain":["C","NC","miR-223 mimics"],"range":[277.4,344.4],"paddingInner":0.31,"paddingOuter":0.2},"axis":{"orient":"bottom","offset":-706,"labelAngle":-32,"labelAlign":"right","labelBaseline":"middle","labelFontSize":12,"labelPadding":3,"title":null}},
    "y":{"field":"v","type":"quantitative","scale":{"domain":[0,6],"range":[535,437.3],"nice":false},"axis":{"orient":"left","offset":-277.4,"values":[0,2,4,6],"format":"d","title":"IC50 of Cisplatin(μg/ml)","labelFontSize":12,"titleFontSize":12,"titleX":-15.4,"titleY":486.15}},
    "color":{"field":"cat","type":"nominal","scale":{"domain":["C","NC","miR-223 mimics"],"range":["#000000","#cc0066","#ff0000"]},"legend":null}}},
  {"data":{"name":"bars"},"transform":[{"filter":"datum.p==='dHb'"}],"mark":{"type":"errorbar","ticks":true,"size":6,"thickness":1.2},
   "encoding":{"x":{"field":"cat","type":"nominal"},"y":{"field":"v","type":"quantitative","title":"IC50 of Cisplatin(μg/ml)"},"yError":{"field":"e"},"color":{"field":"cat","type":"nominal","legend":null}}},
  {"data":{"name":"brackets"},"transform":[{"filter":"datum.p==='dHb'"}],"mark":{"type":"line","color":"#000000","strokeWidth":1},
   "encoding":{"x":{"field":"cat","type":"nominal"},"y":{"field":"v","type":"quantitative"},"order":{"field":"o","type":"quantitative"}}},
  {"data":{"name":"stars"},"transform":[{"filter":"datum.p==='dHb'"}],"mark":{"type":"text","fontSize":10,"baseline":"alphabetic"},
   "encoding":{"x":{"field":"cat","type":"nominal"},"y":{"field":"v","type":"quantitative"},"text":{"field":"t","type":"nominal"}}},
  {"data":{"values":[{}]},"mark":{"type":"text","text":"NCI-H358","fontSize":12,"baseline":"middle","dx":-4},"encoding":{"x":{"datum":"NC"},"y":{"datum":6.94}}}
 ]},
 {"layer": [
  {"data":{"name":"lines"},"transform":[{"filter":"datum.p==='d9'"}],"mark":{"type":"line","interpolate":"monotone","strokeWidth":1.3},
   "encoding":{
    "x":{"field":"c","type":"quantitative","scale":{"domain":[-0.17,6],"range":[452,596.7],"nice":false,"zero":false},"axis":{"orient":"bottom","offset":-701,"values":[0,2,4,6],"format":"d","title":"Cisplatin(μg/ml)","labelFontSize":11,"titleFontSize":11,"titlePadding":0}},
    "y":{"field":"v","type":"quantitative","scale":{"domain":[0,120],"range":[540,443.3],"nice":false},"axis":{"orient":"left","offset":-452,"values":[0,20,40,60,80,100,120],"format":"d","title":["Relative cell viability","(% of control)"],"labelFontSize":11,"titleFontSize":11,"titleX":-41.5,"titleY":491.65}},
    "color":{"field":"s","type":"nominal","scale":{"domain":["control","NC","miR-223 mimics"],"range":["#000000","#a8235a","#ff1f1f"]},"legend":{"orient":"none","legendX":483,"legendY":418,"title":null,"labelFontSize":12,"symbolType":"M-1,0L1,0M0.38,0A0.38,0.38,0,1,1,-0.38,0A0.38,0.38,0,1,1,0.38,0Z","symbolSize":144,"symbolStrokeWidth":1.5,"rowPadding":4,"labelOffset":4}}}},
  {"data":{"name":"lines"},"transform":[{"filter":"datum.p==='d9'"}],"mark":{"type":"errorbar","ticks":true,"size":4,"thickness":1},
   "encoding":{"x":{"field":"c","type":"quantitative"},"y":{"field":"v","type":"quantitative","title":["Relative cell viability","(% of control)"]},"yError":{"field":"e"},"color":{"field":"s","type":"nominal","legend":null}}},
  {"data":{"name":"lines"},"transform":[{"filter":"datum.p==='d9'"}],"mark":{"type":"point","filled":true,"size":18,"opacity":1},
   "encoding":{"x":{"field":"c","type":"quantitative"},"y":{"field":"v","type":"quantitative"},"color":{"field":"s","type":"nominal","legend":null}}},
  {"data":{"values":[{}]},"mark":{"type":"text","text":"NCI-H1299","align":"left","baseline":"middle","fontSize":12},"encoding":{"x":{"datum":-2.26},"y":{"datum":145.2}}}
 ]},
 {"layer": [
  {"data":{"name":"bars"},"transform":[{"filter":"datum.p==='d9b'"}],"mark":{"type":"bar"},
   "encoding":{
    "x":{"field":"cat","type":"nominal","sort":null,"scale":{"domain":["C","NC","miR-223 mimics"],"range":[650.7,717.7],"paddingInner":0.31,"paddingOuter":0.2},"axis":{"orient":"bottom","offset":-706,"labelAngle":-32,"labelAlign":"right","labelBaseline":"middle","labelFontSize":12,"labelPadding":3,"title":null}},
    "y":{"field":"v","type":"quantitative","scale":{"domain":[0,6],"range":[535,437.3],"nice":false},"axis":{"orient":"left","offset":-650.7,"values":[0,2,4,6],"format":"d","title":"IC50 of Cisplatin(μg/ml)","labelFontSize":12,"titleFontSize":12,"titleX":-22.7,"titleY":486.15}},
    "color":{"field":"cat","type":"nominal","scale":{"domain":["C","NC","miR-223 mimics"],"range":["#000000","#cc0066","#ff0000"]},"legend":null}}},
  {"data":{"name":"bars"},"transform":[{"filter":"datum.p==='d9b'"}],"mark":{"type":"errorbar","ticks":true,"size":6,"thickness":1.2},
   "encoding":{"x":{"field":"cat","type":"nominal"},"y":{"field":"v","type":"quantitative","title":"IC50 of Cisplatin(μg/ml)"},"yError":{"field":"e"},"color":{"field":"cat","type":"nominal","legend":null}}},
  {"data":{"name":"brackets"},"transform":[{"filter":"datum.p==='d9b'"}],"mark":{"type":"line","color":"#000000","strokeWidth":1},
   "encoding":{"x":{"field":"cat","type":"nominal"},"y":{"field":"v","type":"quantitative"},"order":{"field":"o","type":"quantitative"}}},
  {"data":{"name":"stars"},"transform":[{"filter":"datum.p==='d9b'"}],"mark":{"type":"text","fontSize":10,"baseline":"alphabetic"},
   "encoding":{"x":{"field":"cat","type":"nominal"},"y":{"field":"v","type":"quantitative"},"text":{"field":"t","type":"nominal"}}},
  {"data":{"values":[{}]},"mark":{"type":"text","text":"NCI-H1299","fontSize":12,"baseline":"middle","dx":-1},"encoding":{"x":{"datum":"NC"},"y":{"datum":7.06}}}
 ]},

 {"layer": [
  {"data":{"name":"lines"},"transform":[{"filter":"datum.p==='eP'"}],"mark":{"type":"line","interpolate":"monotone","strokeWidth":1.3},
   "encoding":{
    "x":{"field":"c","type":"quantitative","scale":{"domain":[-0.17,6],"range":[66.7,210.7],"nice":false,"zero":false},"axis":{"orient":"bottom","offset":-503.3,"values":[0,2,4,6],"format":"d","title":"Cisplatin(μg/ml)","labelFontSize":11,"titleFontSize":11,"titlePadding":0}},
    "y":{"field":"v","type":"quantitative","scale":{"domain":[0,120],"range":[737.7,643],"nice":false},"axis":{"orient":"left","offset":-66.7,"values":[0,20,40,60,80,100,120],"format":"d","title":["Relative cell viability","(% of control)"],"labelFontSize":11,"titleFontSize":11,"titleX":-40.2,"titleY":690.35}},
    "color":{"field":"s","type":"nominal","scale":{"domain":["control","NC","miR-223 inhibitor"],"range":["#000000","#e0307a","#2424ff"]},"legend":{"orient":"none","legendX":98,"legendY":617.3,"title":null,"labelFontSize":12,"symbolType":"M-1,0L1,0M0.38,0A0.38,0.38,0,1,1,-0.38,0A0.38,0.38,0,1,1,0.38,0Z","symbolSize":144,"symbolStrokeWidth":1.5,"rowPadding":3.8,"labelOffset":4}}}},
  {"data":{"name":"lines"},"transform":[{"filter":"datum.p==='eP'"}],"mark":{"type":"errorbar","ticks":true,"size":4,"thickness":1},
   "encoding":{"x":{"field":"c","type":"quantitative"},"y":{"field":"v","type":"quantitative","title":["Relative cell viability","(% of control)"]},"yError":{"field":"e"},"color":{"field":"s","type":"nominal","legend":null}}},
  {"data":{"name":"lines"},"transform":[{"filter":"datum.p==='eP'"}],"mark":{"type":"point","filled":true,"size":18,"opacity":1},
   "encoding":{"x":{"field":"c","type":"quantitative"},"y":{"field":"v","type":"quantitative"},"color":{"field":"s","type":"nominal","legend":null}}},
  {"data":{"values":[{}]},"mark":{"type":"text","text":"PC-9","align":"left","baseline":"middle","fontSize":12},"encoding":{"x":{"datum":-2.09},"y":{"datum":146.6}}}
 ]},
 {"layer": [
  {"data":{"name":"bars"},"transform":[{"filter":"datum.p==='ePb'"}],"mark":{"type":"bar"},
   "encoding":{
    "x":{"field":"cat","type":"nominal","sort":null,"scale":{"domain":["C","NC","miR-223 inhibitor"],"range":[270.7,337.7],"paddingInner":0.31,"paddingOuter":0.2},"axis":{"orient":"bottom","offset":-505,"labelAngle":-32,"labelAlign":"right","labelBaseline":"middle","labelFontSize":12,"labelPadding":3,"title":"e","titleX":12,"titleY":-129,"titleAlign":"left","titleBaseline":"alphabetic","titleAngle":0,"titleFontSize":20,"titleFontWeight":"bold"}},
    "y":{"field":"v","type":"quantitative","scale":{"domain":[0,2.5],"range":[736,641],"nice":false},"axis":{"orient":"left","offset":-270.7,"values":[0,0.5,1,1.5,2,2.5],"format":".1f","title":"IC50 of Cisplatin(μg/ml)","labelFontSize":12,"titleFontSize":12,"titleX":-26.7,"titleY":688.5}},
    "color":{"field":"cat","type":"nominal","scale":{"domain":["C","NC","miR-223 inhibitor"],"range":["#000000","#cc0066","#0000cc"]},"legend":null}}},
  {"data":{"name":"bars"},"transform":[{"filter":"datum.p==='ePb'"}],"mark":{"type":"errorbar","ticks":true,"size":6,"thickness":1.2},
   "encoding":{"x":{"field":"cat","type":"nominal"},"y":{"field":"v","type":"quantitative","title":"IC50 of Cisplatin(μg/ml)"},"yError":{"field":"e"},"color":{"field":"cat","type":"nominal","legend":null}}},
  {"data":{"name":"brackets"},"transform":[{"filter":"datum.p==='ePb'"}],"mark":{"type":"line","color":"#000000","strokeWidth":1},
   "encoding":{"x":{"field":"cat","type":"nominal"},"y":{"field":"v","type":"quantitative"},"order":{"field":"o","type":"quantitative"}}},
  {"data":{"name":"stars"},"transform":[{"filter":"datum.p==='ePb'"}],"mark":{"type":"text","fontSize":10,"baseline":"alphabetic"},
   "encoding":{"x":{"field":"cat","type":"nominal"},"y":{"field":"v","type":"quantitative"},"text":{"field":"t","type":"nominal"}}},
  {"data":{"values":[{}]},"mark":{"type":"text","text":"PC-9","fontSize":12,"baseline":"middle","dx":-3},"encoding":{"x":{"datum":"NC"},"y":{"datum":3.0}}}
 ]},
 {"layer": [
  {"data":{"name":"lines"},"transform":[{"filter":"datum.p==='eA'"}],"mark":{"type":"line","interpolate":"monotone","strokeWidth":1.3},
   "encoding":{
    "x":{"field":"c","type":"quantitative","scale":{"domain":[-0.185,6],"range":[449,592.7],"nice":false,"zero":false},"axis":{"orient":"bottom","offset":-502,"values":[0,2,4,6],"format":"d","title":"Cisplatin(μg/ml)","labelFontSize":11,"titleFontSize":11,"titlePadding":0}},
    "y":{"field":"v","type":"quantitative","scale":{"domain":[0,120],"range":[739,643],"nice":false},"axis":{"orient":"left","offset":-449,"values":[0,20,40,60,80,100,120],"format":"d","title":["Relative cell viability","(% of control)"],"labelFontSize":11,"titleFontSize":11,"titleX":-39.5,"titleY":691}},
    "color":{"field":"s","type":"nominal","scale":{"domain":["control","NC","miR-223 inhibitor"],"range":["#000000","#e0307a","#2424ff"]},"legend":{"orient":"none","legendX":480,"legendY":620,"title":null,"labelFontSize":12,"symbolType":"M-1,0L1,0M0.38,0A0.38,0.38,0,1,1,-0.38,0A0.38,0.38,0,1,1,0.38,0Z","symbolSize":144,"symbolStrokeWidth":1.5,"rowPadding":4,"labelOffset":4}}}},
  {"data":{"name":"lines"},"transform":[{"filter":"datum.p==='eA'"}],"mark":{"type":"errorbar","ticks":true,"size":4,"thickness":1},
   "encoding":{"x":{"field":"c","type":"quantitative"},"y":{"field":"v","type":"quantitative","title":["Relative cell viability","(% of control)"]},"yError":{"field":"e"},"color":{"field":"s","type":"nominal","legend":null}}},
  {"data":{"name":"lines"},"transform":[{"filter":"datum.p==='eA'"}],"mark":{"type":"point","filled":true,"size":18,"opacity":1},
   "encoding":{"x":{"field":"c","type":"quantitative"},"y":{"field":"v","type":"quantitative"},"color":{"field":"s","type":"nominal","legend":null}}},
  {"data":{"values":[{}]},"mark":{"type":"text","text":"A549","align":"left","baseline":"middle","fontSize":12},"encoding":{"x":{"datum":-2.21},"y":{"datum":142.5}}}
 ]},
 {"layer": [
  {"data":{"name":"bars"},"transform":[{"filter":"datum.p==='eAb'"}],"mark":{"type":"bar"},
   "encoding":{
    "x":{"field":"cat","type":"nominal","sort":null,"scale":{"domain":["C","NC","miR-223 inhibitor"],"range":[642.4,709.4],"paddingInner":0.31,"paddingOuter":0.2},"axis":{"orient":"bottom","offset":-503.3,"labelAngle":-32,"labelAlign":"right","labelBaseline":"middle","labelFontSize":12,"labelPadding":3,"title":null}},
    "y":{"field":"v","type":"quantitative","scale":{"domain":[0,2.5],"range":[737.7,640.2],"nice":false},"axis":{"orient":"left","offset":-642.4,"values":[0,0.5,1,1.5,2,2.5],"format":".1f","title":"IC50 of Cisplatin(μg/ml)","labelFontSize":12,"titleFontSize":12,"titleX":-24.4,"titleY":688.95}},
    "color":{"field":"cat","type":"nominal","scale":{"domain":["C","NC","miR-223 inhibitor"],"range":["#000000","#cc0066","#0000cc"]},"legend":null}}},
  {"data":{"name":"bars"},"transform":[{"filter":"datum.p==='eAb'"}],"mark":{"type":"errorbar","ticks":true,"size":6,"thickness":1.2},
   "encoding":{"x":{"field":"cat","type":"nominal"},"y":{"field":"v","type":"quantitative","title":"IC50 of Cisplatin(μg/ml)"},"yError":{"field":"e"},"color":{"field":"cat","type":"nominal","legend":null}}},
  {"data":{"name":"brackets"},"transform":[{"filter":"datum.p==='eAb'"}],"mark":{"type":"line","color":"#000000","strokeWidth":1},
   "encoding":{"x":{"field":"cat","type":"nominal"},"y":{"field":"v","type":"quantitative"},"order":{"field":"o","type":"quantitative"}}},
  {"data":{"name":"stars"},"transform":[{"filter":"datum.p==='eAb'"}],"mark":{"type":"text","fontSize":10,"baseline":"alphabetic"},
   "encoding":{"x":{"field":"cat","type":"nominal"},"y":{"field":"v","type":"quantitative"},"text":{"field":"t","type":"nominal"}}},
  {"data":{"values":[{}]},"mark":{"type":"text","text":"A549","fontSize":12,"baseline":"middle"},"encoding":{"x":{"datum":"NC"},"y":{"datum":2.94}}}
 ]},
 {"layer": [
  {"data":{"name":"lines"},"transform":[{"filter":"datum.p==='gH'"}],"mark":{"type":"line","interpolate":"monotone","strokeWidth":1.3},
   "encoding":{
    "x":{"field":"c","type":"quantitative","scale":{"domain":[-0.24,6],"range":[67,214],"nice":false,"zero":false},"axis":{"orient":"bottom","offset":-299.3,"values":[0,2,4,6],"format":"d","title":"Cisplatin(μg/ml)","labelFontSize":11,"titleFontSize":11,"titlePadding":0}},
    "y":{"field":"v","type":"quantitative","scale":{"domain":[0,120],"range":[941.7,845],"nice":false},"axis":{"orient":"left","offset":-67,"values":[0,20,40,60,80,100,120],"format":"d","title":["Relative cell viability","(% of control)"],"labelFontSize":11,"titleFontSize":11,"titleX":-45,"titleY":893.35}},
    "color":{"field":"s","type":"nominal","scale":{"domain":["control","NC","miR-223 inhibitor"],"range":["#000000","#e0307a","#2424ff"]},"legend":{"orient":"none","legendX":102,"legendY":820.7,"title":null,"labelFontSize":12,"symbolType":"M-1,0L1,0M0.38,0A0.38,0.38,0,1,1,-0.38,0A0.38,0.38,0,1,1,0.38,0Z","symbolSize":121,"symbolStrokeWidth":1.5,"rowPadding":2.2,"labelOffset":4}}}},
  {"data":{"name":"lines"},"transform":[{"filter":"datum.p==='gH'"}],"mark":{"type":"errorbar","ticks":true,"size":4,"thickness":1},
   "encoding":{"x":{"field":"c","type":"quantitative"},"y":{"field":"v","type":"quantitative","title":["Relative cell viability","(% of control)"]},"yError":{"field":"e"},"color":{"field":"s","type":"nominal","legend":null}}},
  {"data":{"name":"lines"},"transform":[{"filter":"datum.p==='gH'"}],"mark":{"type":"point","filled":true,"size":18,"opacity":1},
   "encoding":{"x":{"field":"c","type":"quantitative"},"y":{"field":"v","type":"quantitative"},"color":{"field":"s","type":"nominal","legend":null}}},
  {"data":{"values":[{}]},"mark":{"type":"text","text":"NCI-H358","align":"left","baseline":"middle","fontSize":12},"encoding":{"x":{"datum":-2.53},"y":{"datum":143.5}}}
 ]},
 {"layer": [
  {"data":{"name":"bars"},"transform":[{"filter":"datum.p==='gHb'"}],"mark":{"type":"bar"},
   "encoding":{
    "x":{"field":"cat","type":"nominal","sort":null,"scale":{"domain":["C","NC","miR-223 inhibitor"],"range":[268.7,335.7],"paddingInner":0.3,"paddingOuter":0.2},"axis":{"orient":"bottom","offset":-301,"labelAngle":-32,"labelAlign":"right","labelBaseline":"middle","labelFontSize":12,"labelPadding":3,"title":null}},
    "y":{"field":"v","type":"quantitative","scale":{"domain":[0,6],"range":[940,843.3],"nice":false},"axis":{"orient":"left","offset":-268.7,"values":[0,2,4,6],"format":"d","title":"IC50 of Cisplatin(μg/ml)","labelFontSize":12,"titleFontSize":12,"titleX":-19.2,"titleY":891.65}},
    "color":{"field":"cat","type":"nominal","scale":{"domain":["C","NC","miR-223 inhibitor"],"range":["#000000","#cc0066","#0000cc"]},"legend":null}}},
  {"data":{"name":"bars"},"transform":[{"filter":"datum.p==='gHb'"}],"mark":{"type":"errorbar","ticks":true,"size":6,"thickness":1.2},
   "encoding":{"x":{"field":"cat","type":"nominal"},"y":{"field":"v","type":"quantitative","title":"IC50 of Cisplatin(μg/ml)"},"yError":{"field":"e"},"color":{"field":"cat","type":"nominal","legend":null}}},
  {"data":{"name":"brackets"},"transform":[{"filter":"datum.p==='gHb'"}],"mark":{"type":"line","color":"#000000","strokeWidth":1},
   "encoding":{"x":{"field":"cat","type":"nominal"},"y":{"field":"v","type":"quantitative"},"order":{"field":"o","type":"quantitative"}}},
  {"data":{"name":"stars"},"transform":[{"filter":"datum.p==='gHb'"}],"mark":{"type":"text","fontSize":10,"baseline":"alphabetic"},
   "encoding":{"x":{"field":"cat","type":"nominal"},"y":{"field":"v","type":"quantitative"},"text":{"field":"t","type":"nominal"}}},
  {"data":{"values":[{}]},"mark":{"type":"text","text":"NCI-H358","fontSize":12,"baseline":"middle","dx":-6},"encoding":{"x":{"datum":"NC"},"y":{"datum":7.02}}}
 ]},
 {"layer": [
  {"data":{"name":"lines"},"transform":[{"filter":"datum.p==='g9'"}],"mark":{"type":"line","interpolate":"monotone","strokeWidth":1.3},
   "encoding":{
    "x":{"field":"c","type":"quantitative","scale":{"domain":[-0.2,6],"range":[456.7,602.8],"nice":false,"zero":false},"axis":{"orient":"bottom","offset":-299.3,"values":[0,2,4,6],"format":"d","title":"Cisplatin(μg/ml)","labelFontSize":11,"titleFontSize":11,"titlePadding":0}},
    "y":{"field":"v","type":"quantitative","scale":{"domain":[0,120],"range":[941.7,845],"nice":false},"axis":{"orient":"left","offset":-456.7,"values":[0,20,40,60,80,100,120],"format":"d","title":["Relative cell viability","(% of control)"],"labelFontSize":11,"titleFontSize":11,"titleX":-42.2,"titleY":893.35}},
    "color":{"field":"s","type":"nominal","scale":{"domain":["control","NC","miR-223 inhibitor"],"range":["#000000","#e0307a","#2424ff"]},"legend":{"orient":"none","legendX":483,"legendY":823.3,"title":null,"labelFontSize":12,"symbolType":"M-1,0L1,0M0.38,0A0.38,0.38,0,1,1,-0.38,0A0.38,0.38,0,1,1,0.38,0Z","symbolSize":144,"symbolStrokeWidth":1.5,"rowPadding":3,"labelOffset":4}}}},
  {"data":{"name":"lines"},"transform":[{"filter":"datum.p==='g9'"}],"mark":{"type":"errorbar","ticks":true,"size":4,"thickness":1},
   "encoding":{"x":{"field":"c","type":"quantitative"},"y":{"field":"v","type":"quantitative","title":["Relative cell viability","(% of control)"]},"yError":{"field":"e"},"color":{"field":"s","type":"nominal","legend":null}}},
  {"data":{"name":"lines"},"transform":[{"filter":"datum.p==='g9'"}],"mark":{"type":"point","filled":true,"size":18,"opacity":1},
   "encoding":{"x":{"field":"c","type":"quantitative"},"y":{"field":"v","type":"quantitative"},"color":{"field":"s","type":"nominal","legend":null}}},
  {"data":{"values":[{}]},"mark":{"type":"text","text":"NCI-H1299","align":"left","baseline":"middle","fontSize":12},"encoding":{"x":{"datum":-2.52},"y":{"datum":152.2}}}
 ]},
 {"layer": [
  {"data":{"name":"bars"},"transform":[{"filter":"datum.p==='g9b'"}],"mark":{"type":"bar"},
   "encoding":{
    "x":{"field":"cat","type":"nominal","sort":null,"scale":{"domain":["C","NC","miR-223 inhibitor"],"range":[650.5,717.5],"paddingInner":0.3,"paddingOuter":0.2},"axis":{"orient":"bottom","offset":-295,"labelAngle":-32,"labelAlign":"right","labelBaseline":"middle","labelFontSize":12,"labelPadding":3,"title":null}},
    "y":{"field":"v","type":"quantitative","scale":{"domain":[0,6],"range":[946,847.3],"nice":false},"axis":{"orient":"left","offset":-650.5,"values":[0,2,4,6],"format":"d","title":"IC50 of Cisplatin(μg/ml)","labelFontSize":12,"titleFontSize":12,"titleX":-17,"titleY":896.65}},
    "color":{"field":"cat","type":"nominal","scale":{"domain":["C","NC","miR-223 inhibitor"],"range":["#000000","#cc0066","#0000cc"]},"legend":null}}},
  {"data":{"name":"bars"},"transform":[{"filter":"datum.p==='g9b'"}],"mark":{"type":"errorbar","ticks":true,"size":6,"thickness":1.2},
   "encoding":{"x":{"field":"cat","type":"nominal"},"y":{"field":"v","type":"quantitative","title":"IC50 of Cisplatin(μg/ml)"},"yError":{"field":"e"},"color":{"field":"cat","type":"nominal","legend":null}}},
  {"data":{"name":"brackets"},"transform":[{"filter":"datum.p==='g9b'"}],"mark":{"type":"line","color":"#000000","strokeWidth":1},
   "encoding":{"x":{"field":"cat","type":"nominal"},"y":{"field":"v","type":"quantitative"},"order":{"field":"o","type":"quantitative"}}},
  {"data":{"name":"stars"},"transform":[{"filter":"datum.p==='g9b'"}],"mark":{"type":"text","fontSize":10,"baseline":"alphabetic"},
   "encoding":{"x":{"field":"cat","type":"nominal"},"y":{"field":"v","type":"quantitative"},"text":{"field":"t","type":"nominal"}}},
  {"data":{"values":[{}]},"mark":{"type":"text","text":"NCI-H1299","fontSize":12,"baseline":"middle","dx":-7},"encoding":{"x":{"datum":"NC"},"y":{"datum":6.99}}}
 ]},

 {"layer": [
  {"data":{"name":"grouped"},"transform":[{"filter":"datum.p==='fL'"}],"mark":{"type":"bar"},
   "encoding":{
    "x":{"field":"cat","type":"nominal","sort":null,"scale":{"domain":["PC-9","A549","NCI-H358","NCI-H1299"],"range":[99.3,281.8],"paddingInner":0.24,"paddingOuter":0.13},"axis":{"orient":"bottom","offset":-52.7,"labelAngle":-28,"labelAlign":"right","labelBaseline":"middle","labelFontSize":15.5,"labelFontStyle":"italic","labelPadding":4,"tickSize":5,"title":"f","titleX":13,"titleY":-180.3,"titleAlign":"left","titleBaseline":"alphabetic","titleAngle":0,"titleFontSize":20,"titleFontWeight":"bold"}},
    "xOffset":{"field":"grp","type":"nominal","sort":null,"scale":{"domain":["control","NC","miR-223 mimics"],"paddingInner":0.08}},
    "y":{"field":"v","type":"quantitative","scale":{"domain":[0,0.006],"range":[1188.3,1069.3],"nice":false},"axis":{"orient":"left","offset":-99.3,"values":[0,0.002,0.004,0.006],"format":".3f","title":"Expression of miR-223/U6","labelFontSize":14,"titleFontSize":15.5,"titleX":-51.55,"titleY":1117.5,"tickSize":5}},
    "color":{"field":"grp","type":"nominal","scale":{"domain":["control","NC","miR-223 mimics"],"range":["#000000","#cc0066","#ff0000"]},"legend":{"orient":"none","legendX":104,"legendY":1013,"title":null,"symbolType":"square","symbolSize":196,"labelFontSize":15.5,"rowPadding":4.2,"labelOffset":7}}}},
  {"data":{"name":"grouped"},"transform":[{"filter":"datum.p==='fL'"}],"mark":{"type":"errorbar","ticks":true,"size":5,"thickness":1.2},
   "encoding":{"x":{"field":"cat","type":"nominal"},"xOffset":{"field":"grp","type":"nominal"},"y":{"field":"v","type":"quantitative","title":"Expression of miR-223/U6"},"yError":{"field":"e"},"color":{"field":"grp","type":"nominal","legend":null}}},
  {"data":{"name":"brackets"},"transform":[{"filter":"datum.p==='fL'"}],"mark":{"type":"line","color":"#000000","strokeWidth":1},
   "encoding":{"x":{"field":"cat","type":"nominal"},"xOffset":{"field":"grp","type":"nominal"},"y":{"field":"v","type":"quantitative"},"detail":{"field":"cat"},"order":{"field":"o","type":"quantitative"}}},
  {"data":{"name":"stars"},"transform":[{"filter":"datum.p==='fL'"}],"mark":{"type":"text","fontSize":9,"baseline":"alphabetic","color":"#7a2020"},
   "encoding":{"x":{"field":"cat","type":"nominal"},"xOffset":{"field":"grp","type":"nominal"},"y":{"field":"v","type":"quantitative"},"text":{"field":"t","type":"nominal"}}}
 ]},
 {"layer": [
  {"data":{"name":"grouped"},"transform":[{"filter":"datum.p==='fR'"}],"mark":{"type":"bar"},
   "encoding":{
    "x":{"field":"cat","type":"nominal","sort":null,"scale":{"domain":["PC-9","A549","NCI-H358","NCI-H1299"],"range":[453.4,625.7],"paddingInner":0.245,"paddingOuter":0.02},"axis":{"orient":"bottom","offset":-63.7,"labelAngle":-28,"labelAlign":"right","labelBaseline":"middle","labelFontSize":15.5,"labelFontStyle":"italic","labelPadding":4,"tickSize":5,"title":null}},
    "xOffset":{"field":"grp","type":"nominal","sort":null,"scale":{"domain":["control","NC","miR-223 inhibitor"],"paddingInner":0.08}},
    "y":{"field":"v","type":"quantitative","scale":{"domain":[0,0.002],"range":[1177.3,1058.3],"nice":false},"axis":{"orient":"left","offset":-453.4,"values":[0,0.0005,0.001,0.0015,0.002],"format":".4f","title":"Expression of miR-223/U6","labelFontSize":14,"titleFontSize":15.5,"titleX":-68.65,"titleY":1114,"tickSize":5}},
    "color":{"field":"grp","type":"nominal","scale":{"domain":["control","NC","miR-223 inhibitor"],"range":["#000000","#cc0066","#0000cc"]},"legend":{"orient":"none","legendX":458,"legendY":1006,"title":null,"symbolType":"square","symbolSize":180,"labelFontSize":15.5,"rowPadding":4.2,"labelOffset":7}}}},
  {"data":{"name":"grouped"},"transform":[{"filter":"datum.p==='fR'"}],"mark":{"type":"errorbar","ticks":true,"size":5,"thickness":1.2},
   "encoding":{"x":{"field":"cat","type":"nominal"},"xOffset":{"field":"grp","type":"nominal"},"y":{"field":"v","type":"quantitative","title":"Expression of miR-223/U6"},"yError":{"field":"e"},"color":{"field":"grp","type":"nominal","legend":null}}},
  {"data":{"name":"brackets"},"transform":[{"filter":"datum.p==='fR'"}],"mark":{"type":"line","color":"#000000","strokeWidth":1},
   "encoding":{"x":{"field":"cat","type":"nominal"},"xOffset":{"field":"grp","type":"nominal"},"y":{"field":"v","type":"quantitative"},"detail":{"field":"cat"},"order":{"field":"o","type":"quantitative"}}},
  {"data":{"name":"stars"},"transform":[{"filter":"datum.p==='fR'"}],"mark":{"type":"text","fontSize":14,"baseline":"alphabetic"},
   "encoding":{"x":{"field":"cat","type":"nominal"},"xOffset":{"field":"grp","type":"nominal"},"y":{"field":"v","type":"quantitative"},"text":{"field":"t","type":"nominal"}}}
 ]}
],
"resolve": {
 "scale": {"x": "independent", "y": "independent", "color": "independent", "shape": "independent", "xOffset": "independent"},
 "axis": {"x": "independent", "y": "independent"},
 "legend": {"color": "independent", "shape": "independent"}
}
}
